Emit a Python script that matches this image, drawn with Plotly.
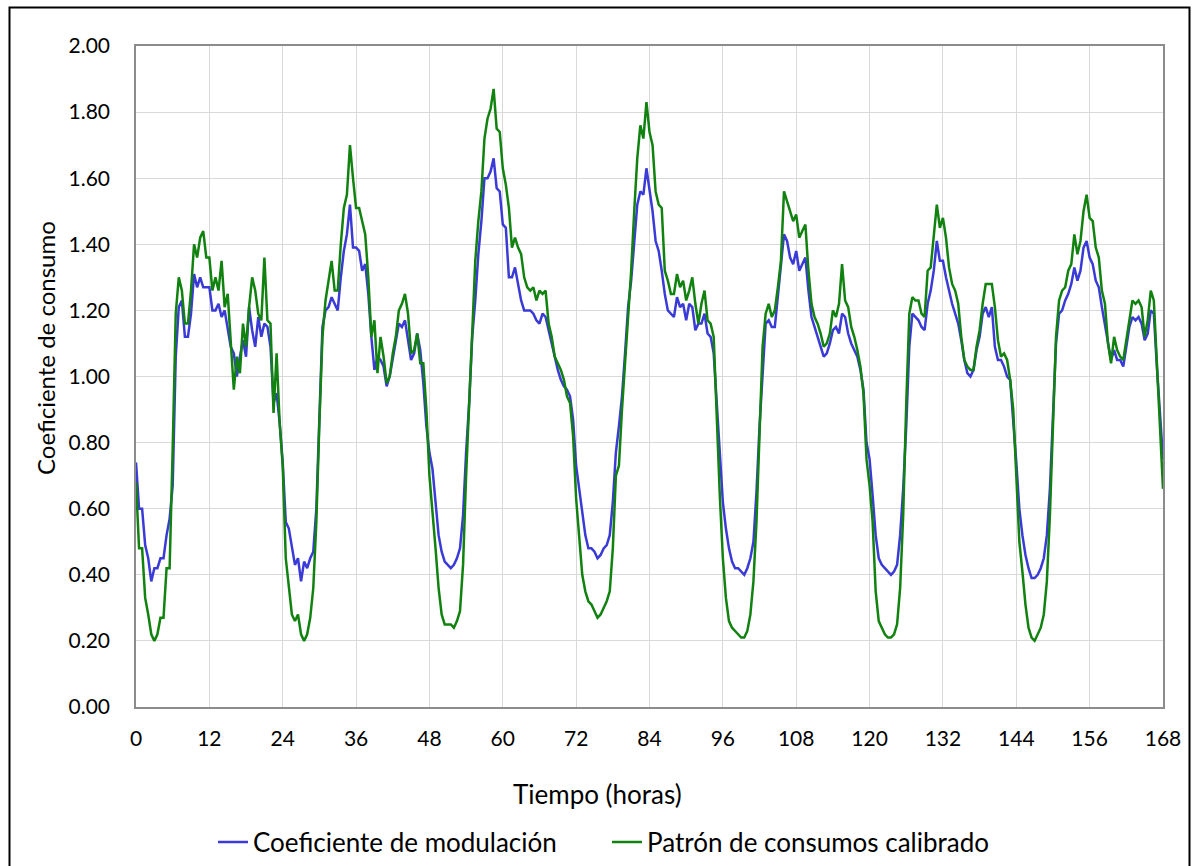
import plotly.graph_objects as go

# time in hours, half-hour sampling
horas = [i * 0.5 for i in range(337)]

coef_modulacion = [
    0.74, 0.60, 0.60, 0.49, 0.45, 0.38, 0.42, 0.42, 0.45, 0.45, 0.52, 0.57, 0.67, 1.06, 1.21, 1.23, 1.12, 1.12, 1.19, 1.31, 1.27, 1.30, 1.27, 1.27,
    1.27, 1.20, 1.20, 1.22, 1.18, 1.20, 1.15, 1.09, 1.07, 1.00, 1.06, 1.11, 1.06, 1.21, 1.14, 1.09, 1.18, 1.12, 1.16, 1.15, 1.09, 0.92, 0.95, 0.86,
    0.74, 0.56, 0.54, 0.48, 0.43, 0.45, 0.38, 0.44, 0.42, 0.45, 0.47, 0.60, 0.90, 1.15, 1.20, 1.21, 1.24, 1.22, 1.20, 1.30, 1.38, 1.43, 1.52, 1.39,
    1.39, 1.38, 1.32, 1.34, 1.25, 1.12, 1.02, 1.06, 1.05, 1.03, 0.97, 1.00, 1.05, 1.10, 1.16, 1.15, 1.17, 1.11, 1.05, 1.07, 1.13, 1.08, 0.98, 0.85,
    0.77, 0.72, 0.61, 0.52, 0.47, 0.44, 0.43, 0.42, 0.43, 0.45, 0.48, 0.58, 0.77, 0.92, 1.12, 1.23, 1.37, 1.47, 1.60, 1.60, 1.62, 1.66, 1.57, 1.56,
    1.46, 1.45, 1.30, 1.30, 1.33, 1.28, 1.23, 1.20, 1.20, 1.20, 1.19, 1.17, 1.16, 1.19, 1.18, 1.14, 1.10, 1.06, 1.02, 0.99, 0.97, 0.96, 0.94, 0.87,
    0.73, 0.66, 0.58, 0.52, 0.48, 0.48, 0.47, 0.45, 0.46, 0.48, 0.49, 0.52, 0.62, 0.77, 0.85, 0.94, 1.07, 1.21, 1.29, 1.42, 1.52, 1.56, 1.55, 1.63,
    1.57, 1.50, 1.41, 1.38, 1.32, 1.25, 1.20, 1.19, 1.18, 1.24, 1.21, 1.22, 1.17, 1.22, 1.21, 1.14, 1.16, 1.16, 1.19, 1.13, 1.12, 1.07, 0.92, 0.78,
    0.62, 0.54, 0.48, 0.44, 0.42, 0.42, 0.41, 0.40, 0.42, 0.45, 0.50, 0.65, 0.85, 1.01, 1.16, 1.17, 1.15, 1.15, 1.24, 1.32, 1.43, 1.41, 1.36, 1.34,
    1.38, 1.32, 1.34, 1.36, 1.26, 1.18, 1.15, 1.12, 1.09, 1.06, 1.07, 1.10, 1.14, 1.15, 1.13, 1.19, 1.18, 1.13, 1.10, 1.08, 1.06, 1.02, 0.96, 0.80,
    0.75, 0.64, 0.52, 0.45, 0.43, 0.42, 0.41, 0.40, 0.41, 0.43, 0.52, 0.66, 0.85, 1.09, 1.19, 1.18, 1.17, 1.15, 1.14, 1.22, 1.26, 1.32, 1.41, 1.35,
    1.35, 1.30, 1.26, 1.22, 1.19, 1.16, 1.11, 1.05, 1.01, 1.00, 1.02, 1.08, 1.12, 1.19, 1.21, 1.18, 1.21, 1.09, 1.05, 1.05, 1.03, 1.00, 0.99, 0.87,
    0.74, 0.60, 0.52, 0.46, 0.42, 0.39, 0.39, 0.40, 0.42, 0.45, 0.52, 0.66, 0.90, 1.10, 1.19, 1.20, 1.23, 1.25, 1.28, 1.33, 1.29, 1.32, 1.39, 1.41,
    1.36, 1.34, 1.29, 1.27, 1.21, 1.16, 1.10, 1.05, 1.08, 1.05, 1.05, 1.03, 1.09, 1.15, 1.18, 1.17, 1.18, 1.16, 1.11, 1.13, 1.20, 1.19, 1.03, 0.90,
    0.75,
]

patron_calibrado = [
    0.68, 0.48, 0.48, 0.33, 0.28, 0.22, 0.20, 0.22, 0.27, 0.27, 0.42, 0.42, 0.78, 1.19, 1.30, 1.26, 1.16, 1.16, 1.26, 1.40, 1.36, 1.42, 1.44, 1.36,
    1.36, 1.26, 1.30, 1.26, 1.35, 1.21, 1.25, 1.11, 0.96, 1.06, 1.01, 1.16, 1.09, 1.21, 1.30, 1.26, 1.19, 1.17, 1.36, 1.17, 1.16, 0.89, 1.07, 0.86,
    0.73, 0.45, 0.36, 0.28, 0.26, 0.28, 0.22, 0.20, 0.22, 0.27, 0.36, 0.56, 0.86, 1.12, 1.23, 1.29, 1.35, 1.26, 1.26, 1.40, 1.51, 1.55, 1.70, 1.60,
    1.51, 1.51, 1.47, 1.43, 1.30, 1.12, 1.17, 1.01, 1.12, 1.06, 0.98, 1.00, 1.07, 1.12, 1.20, 1.22, 1.25, 1.19, 1.07, 1.08, 1.13, 1.04, 1.04, 0.90,
    0.70, 0.60, 0.48, 0.36, 0.28, 0.25, 0.25, 0.25, 0.24, 0.26, 0.29, 0.43, 0.70, 0.93, 1.16, 1.35, 1.47, 1.56, 1.72, 1.78, 1.81, 1.87, 1.75, 1.74,
    1.63, 1.58, 1.51, 1.39, 1.42, 1.39, 1.37, 1.30, 1.27, 1.26, 1.27, 1.23, 1.26, 1.25, 1.26, 1.16, 1.12, 1.06, 1.04, 1.02, 0.99, 0.94, 0.92, 0.82,
    0.63, 0.50, 0.40, 0.35, 0.32, 0.31, 0.29, 0.27, 0.28, 0.30, 0.32, 0.35, 0.48, 0.70, 0.73, 0.90, 1.04, 1.20, 1.32, 1.50, 1.66, 1.76, 1.72, 1.83,
    1.74, 1.70, 1.56, 1.52, 1.51, 1.32, 1.29, 1.25, 1.25, 1.31, 1.27, 1.29, 1.23, 1.26, 1.30, 1.22, 1.16, 1.22, 1.26, 1.17, 1.16, 1.12, 0.87, 0.64,
    0.45, 0.33, 0.26, 0.24, 0.23, 0.22, 0.21, 0.21, 0.23, 0.28, 0.38, 0.56, 0.85, 1.09, 1.19, 1.22, 1.18, 1.20, 1.27, 1.35, 1.56, 1.53, 1.50, 1.47,
    1.49, 1.42, 1.44, 1.46, 1.32, 1.22, 1.18, 1.16, 1.13, 1.09, 1.10, 1.13, 1.20, 1.18, 1.22, 1.34, 1.23, 1.21, 1.15, 1.12, 1.08, 1.03, 0.95, 0.75,
    0.67, 0.56, 0.35, 0.26, 0.24, 0.22, 0.21, 0.21, 0.22, 0.25, 0.36, 0.58, 0.92, 1.19, 1.24, 1.23, 1.23, 1.19, 1.18, 1.32, 1.33, 1.42, 1.52, 1.45,
    1.48, 1.42, 1.33, 1.28, 1.26, 1.22, 1.12, 1.05, 1.03, 1.02, 1.02, 1.09, 1.14, 1.22, 1.28, 1.28, 1.28, 1.21, 1.11, 1.06, 1.07, 1.05, 0.99, 0.90,
    0.68, 0.50, 0.41, 0.31, 0.24, 0.21, 0.20, 0.22, 0.24, 0.28, 0.38, 0.58, 0.84, 1.12, 1.23, 1.26, 1.27, 1.32, 1.34, 1.43, 1.37, 1.41, 1.50, 1.55,
    1.48, 1.47, 1.39, 1.36, 1.26, 1.22, 1.10, 1.04, 1.12, 1.08, 1.06, 1.05, 1.11, 1.17, 1.23, 1.22, 1.23, 1.21, 1.12, 1.17, 1.26, 1.23, 1.04, 0.89,
    0.66,
]

x_ticks = [0, 12, 24, 36, 48, 60, 72, 84, 96, 108, 120, 132, 144, 156, 168]
y_ticks = [0.0, 0.2, 0.4, 0.6, 0.8, 1.0, 1.2, 1.4, 1.6, 1.8, 2.0]

assert len(coef_modulacion) == len(horas), len(coef_modulacion)
assert len(patron_calibrado) == len(horas), len(patron_calibrado)

FONT = "Lato, 'Open Sans', sans-serif"

fig = go.Figure()
fig.add_trace(go.Scatter(x=horas, y=coef_modulacion, mode="lines",
                         name="Coeficiente de modulación",
                         line=dict(color="#3a3ad6", width=2.5)))
fig.add_trace(go.Scatter(x=horas, y=patron_calibrado, mode="lines",
                         name="Patrón de consumos calibrado",
                         line=dict(color="#11820f", width=2.5)))

W, H = 1192, 866
L, R, T, B = 136, 29, 46, 159
pw, ph = W - L - R, H - T - B

def px(x):
    return (x - L) / pw

def py(y):
    return (H - B - y) / ph

fig.update_layout(
    width=W, height=H,
    margin=dict(l=L, r=R, t=T, b=B, autoexpand=False),
    paper_bgcolor="white", plot_bgcolor="white",
    font=dict(family=FONT, size=21, color="#000000"),
    showlegend=True,
    legend=dict(orientation="h", x=px(213), xanchor="left", y=py(842), yanchor="middle",
                font=dict(size=26, family=FONT), entrywidth=349, entrywidthmode="pixels",
                tracegroupgap=0, bgcolor="rgba(0,0,0,0)"),
    xaxis=dict(range=[0, 168], tickvals=x_ticks, ticktext=[str(v) for v in x_ticks],
               showgrid=True, gridcolor="#d9d9d9", gridwidth=1,
               showline=True, mirror=True, linecolor="#8c8c8c", linewidth=1.5,
               ticks="", zeroline=False, ticklabelstandoff=12,
               tickfont=dict(size=21, family=FONT)),
    yaxis=dict(range=[0, 2.0], tickvals=y_ticks, tickformat=".2f",
               showgrid=True, gridcolor="#d9d9d9", gridwidth=1,
               showline=True, mirror=True, linecolor="#8c8c8c", linewidth=1.5,
               ticks="", zeroline=False, ticklabelstandoff=20,
               tickfont=dict(size=21, family=FONT)),
    annotations=[
        dict(text="Tiempo (horas)", x=px(597), y=py(794), xref="paper", yref="paper",
             showarrow=False, xanchor="center", yanchor="middle",
             font=dict(size=26, family=FONT)),
        dict(text="Coeficiente de consumo", x=px(45), y=py(348), xref="paper", yref="paper",
             showarrow=False, xanchor="center", yanchor="middle", textangle=-90,
             font=dict(size=24, family=FONT)),
    ],
    shapes=[
        dict(type="rect", xref="paper", yref="paper",
             x0=px(9.5), x1=px(1189.5), y0=py(875), y1=py(7.5),
             line=dict(color="#000000", width=2), layer="below"),
    ],
)

fig.write_html("out.html")
